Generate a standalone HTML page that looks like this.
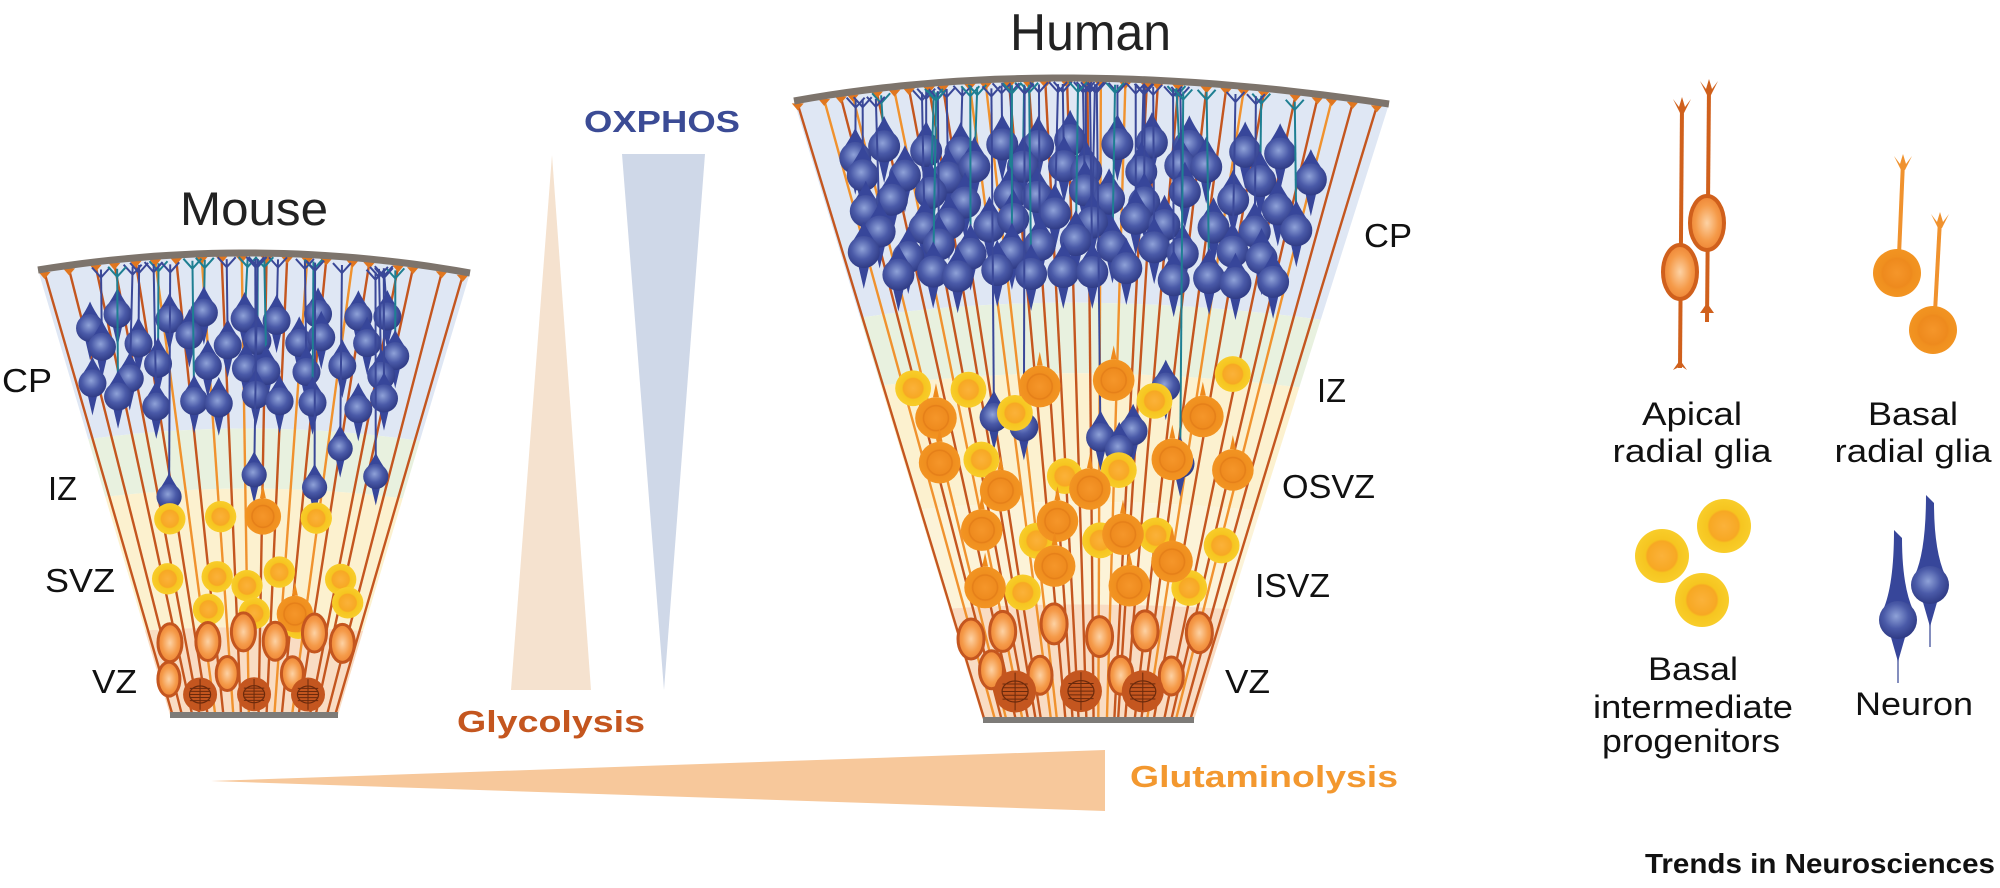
<!DOCTYPE html>
<html><head><meta charset="utf-8">
<style>
html,body{margin:0;padding:0;background:#fff;}
svg{display:block;}
text{font-family:"Liberation Sans",Arial,sans-serif;}
</style></head>
<body>
<svg id="s" width="2000" height="888" viewBox="0 0 2000 888" xmlns="http://www.w3.org/2000/svg">
<defs>
<radialGradient id="nb" cx="0.45" cy="0.4" r="0.6"><stop offset="0" stop-color="#8fa2d8"/><stop offset="0.55" stop-color="#4a5aa8"/><stop offset="1" stop-color="#2f3b85"/></radialGradient>
<radialGradient id="yb" cx="0.5" cy="0.5" r="0.5"><stop offset="0" stop-color="#fbb23a"/><stop offset="0.55" stop-color="#f7a823"/><stop offset="0.62" stop-color="#f6c520"/><stop offset="1" stop-color="#f8cd2a"/></radialGradient>
<radialGradient id="ob" cx="0.5" cy="0.5" r="0.5"><stop offset="0" stop-color="#f5962a"/><stop offset="0.6" stop-color="#ee8a1d"/><stop offset="0.7" stop-color="#f0901f"/><stop offset="1" stop-color="#f29422"/></radialGradient>
<radialGradient id="ab" cx="0.5" cy="0.5" r="0.55"><stop offset="0" stop-color="#fdd2a4"/><stop offset="0.6" stop-color="#f59b4a"/><stop offset="1" stop-color="#ec8030"/></radialGradient>
</defs>
<g id="bg"></g>
<g id="fib"></g>
<g id="cells"></g>

<polygon points="552,155 511,690 591,690" fill="#f5e2cf"/>
<polygon points="622,154 705,154 664,690" fill="#cfd8e8"/>
<polygon points="211,781 1105,750 1105,811" fill="#f7c89b"/>

<text x="180" y="225" font-size="47" fill="#222" textLength="148" lengthAdjust="spacingAndGlyphs">Mouse</text>
<text x="1010" y="50" font-size="52" fill="#222" textLength="161" lengthAdjust="spacingAndGlyphs">Human</text>
<text x="584" y="132" font-size="31" font-weight="bold" fill="#3b4b95" textLength="156" lengthAdjust="spacingAndGlyphs">OXPHOS</text>
<text x="457" y="732" font-size="31" font-weight="bold" fill="#c4561f" textLength="188" lengthAdjust="spacingAndGlyphs">Glycolysis</text>
<text x="1130" y="787" font-size="31" font-weight="bold" fill="#f3982f" textLength="268" lengthAdjust="spacingAndGlyphs">Glutaminolysis</text>

<g font-size="33" fill="#111">
<text x="2" y="392" textLength="50" lengthAdjust="spacingAndGlyphs">CP</text>
<text x="48" y="500" textLength="29" lengthAdjust="spacingAndGlyphs">IZ</text>
<text x="45" y="592" textLength="70" lengthAdjust="spacingAndGlyphs">SVZ</text>
<text x="92" y="693" textLength="45" lengthAdjust="spacingAndGlyphs">VZ</text>
<text x="1364" y="247" textLength="48" lengthAdjust="spacingAndGlyphs">CP</text>
<text x="1317" y="402" textLength="29" lengthAdjust="spacingAndGlyphs">IZ</text>
<text x="1282" y="498" textLength="93" lengthAdjust="spacingAndGlyphs">OSVZ</text>
<text x="1255" y="597" textLength="75" lengthAdjust="spacingAndGlyphs">ISVZ</text>
<text x="1225" y="693" textLength="45" lengthAdjust="spacingAndGlyphs">VZ</text>
</g>

<g id="legend"></g>
<g font-size="32" fill="#111" text-anchor="middle">
<text x="1692" y="425" textLength="100" lengthAdjust="spacingAndGlyphs">Apical</text>
<text x="1692" y="462" textLength="159" lengthAdjust="spacingAndGlyphs">radial glia</text>
<text x="1913" y="425" textLength="90" lengthAdjust="spacingAndGlyphs">Basal</text>
<text x="1913" y="462" textLength="157" lengthAdjust="spacingAndGlyphs">radial glia</text>
<text x="1693" y="680" textLength="90" lengthAdjust="spacingAndGlyphs">Basal</text>
<text x="1693" y="718" textLength="200" lengthAdjust="spacingAndGlyphs">intermediate</text>
<text x="1691" y="752" textLength="178" lengthAdjust="spacingAndGlyphs">progenitors</text>
<text x="1914" y="715" textLength="118" lengthAdjust="spacingAndGlyphs">Neuron</text>
</g>
<text x="1645" y="873" font-size="28" font-weight="bold" fill="#111" textLength="350" lengthAdjust="spacingAndGlyphs">Trends in Neurosciences</text>
</svg>
<script>
(function(){
var NS="http://www.w3.org/2000/svg";
function el(parent,tag,attrs){var e=document.createElementNS(NS,tag);for(var k in attrs)e.setAttribute(k,attrs[k]);parent.appendChild(e);return e;}
var seed=11;function rnd(){seed=(seed*16807)%2147483647;return (seed-1)/2147483646;}
var bg=document.getElementById('bg'),fib=document.getElementById('fib'),cells=document.getElementById('cells'),leg=document.getElementById('legend');
function mkFan(tl,pk,tr,bl,br){
  var C=[2*pk[0]-(tl[0]+tr[0])/2,2*pk[1]-(tl[1]+tr[1])/2];
  return function(u,v){
    var a=(1-u)*(1-u),b=2*u*(1-u),c=u*u;
    var tx=a*tl[0]+b*C[0]+c*tr[0],ty=a*tl[1]+b*C[1]+c*tr[1];
    var bx=bl[0]+(br[0]-bl[0])*u,by=bl[1]+(br[1]-bl[1])*u;
    return [tx+(bx-tx)*v,ty+(by-ty)*v];
  };
}
function zone(F,v1,v2,col){
  var pts=[],i;
  for(i=0;i<=30;i++){var p=F(i/30,v1);pts.push(p[0].toFixed(1)+','+p[1].toFixed(1));}
  for(i=30;i>=0;i--){var p=F(i/30,v2);pts.push(p[0].toFixed(1)+','+p[1].toFixed(1));}
  el(bg,'polygon',{points:pts.join(' '),fill:col});
}
function arcLine(F,v,col,w){
  var pts=[];for(var i=0;i<=30;i++){var p=F(i/30,v);pts.push(p[0].toFixed(1)+','+p[1].toFixed(1));}
  el(cells,'polyline',{points:pts.join(' '),fill:'none',stroke:col,'stroke-width':w});
}
function neuron(x,y,r,topY){
  var g=el(cells,'g',{});
  if(rnd()<0.6){
    var tx=x+(rnd()-0.5)*8;var col=rnd()<0.35?'#1e7f92':'#3a4898';
    el(g,'line',{x1:x,y1:y,x2:tx,y2:topY+6,stroke:col,'stroke-width':2});
    el(g,'path',{d:'M'+(tx-9)+','+(topY+4)+' L'+tx+','+(topY+14)+' L'+(tx+9)+','+(topY+4),fill:'none',stroke:col,'stroke-width':2});
  }
  el(g,'path',{d:'M'+(x-r*0.85)+','+(y-r*0.45)+' Q'+(x-r*0.25)+','+(y-r*1.3)+' '+x+','+(y-r*1.9)+' Q'+(x+r*0.25)+','+(y-r*1.3)+' '+(x+r*0.85)+','+(y-r*0.45)+' Z',fill:'#37469a'});
  el(g,'path',{d:'M'+(x-r*0.35)+','+(y+r*0.8)+' L'+x+','+(y+r*2.3)+' L'+(x+r*0.35)+','+(y+r*0.8)+' Z',fill:'#37469a'});
  el(g,'circle',{cx:x,cy:y,r:r,fill:'url(#nb)'});
}
function yellow(x,y,r){el(cells,'circle',{cx:x,cy:y,r:r,fill:'url(#yb)'});}
function orange(x,y,r){
  el(cells,'path',{d:'M'+(x-3)+','+(y-r)+' L'+x+','+(y-r-14)+' L'+(x+3)+','+(y-r)+'Z',fill:'#ee8a1d'});
  el(cells,'circle',{cx:x,cy:y,r:r,fill:'url(#ob)'});
  el(cells,'circle',{cx:x,cy:y,r:r*0.6,fill:'none',stroke:'#e07a18','stroke-width':1.5,opacity:0.6});
}
function apical(x,y,rx,ry){el(cells,'ellipse',{cx:x,cy:y,rx:rx,ry:ry,fill:'url(#ab)',stroke:'#c4561f','stroke-width':3});}
function mitotic(x,y,r){
  el(cells,'circle',{cx:x,cy:y,r:r,fill:'#c4561f'});
  el(cells,'ellipse',{cx:x,cy:y,rx:r*0.62,ry:r*0.5,fill:'none',stroke:'#6b2a0c','stroke-width':1.2});
  for(var k=-2;k<=2;k++){el(cells,'line',{x1:x-r*0.6,y1:y+k*r*0.18,x2:x+r*0.6,y2:y+k*r*0.18,stroke:'#6b2a0c','stroke-width':1});}
  el(cells,'line',{x1:x,y1:y-r*0.9,x2:x,y2:y+r*0.9,stroke:'#6b2a0c','stroke-width':1});
}
function build(F,zones,nF,rows,cols,vmin,vmax,nNlow,nY,nO,vz,mit,r,low){
  zones.forEach(function(z){zone(F,z[0],z[1],z[2]);});
  for(var i=0;i<nF;i++){
    var u=(i+0.5)/nF+(rnd()-0.5)*0.02;var a=F(u,0),b=F(u,1);
    el(fib,'line',{x1:a[0],y1:a[1]+4,x2:b[0],y2:b[1],stroke:rnd()<0.7?'#c4561f':'#f0922e','stroke-width':2.4});
    el(fib,'path',{d:'M'+(a[0]-6)+','+(a[1]+3)+' L'+a[0]+','+(a[1]+10)+' L'+(a[0]+6)+','+(a[1]+3)+'Z',fill:'#e0761f'});
  }
  for(var ri=0;ri<rows;ri++){
    for(var ci=0;ci<cols;ci++){
      var u=0.05+0.9*(ci+0.5*(ri%2)+0.25+(rnd()-0.5)*0.5)/(cols+0.5);
      var v=vmin+(vmax-vmin)*(ri+0.5+(rnd()-0.5)*0.6)/rows;
      var p=F(u,v),t=F(u,0);
      neuron(p[0],p[1],r,t[1]);
    }
  }
  for(var i=0;i<nNlow;i++){
    var u=0.1+0.8*rnd(),v=low[0]+(low[1]-low[0])*rnd();var p=F(u,v);var t=F(u,0);
    neuron(p[0],p[1],r*0.9,t[1]);
  }
  nY.forEach(function(c){var p=F(c[0],c[1]);yellow(p[0],p[1],r*1.12);});
  nO.forEach(function(c){var p=F(c[0],c[1]);orange(p[0],p[1],r*1.3);});
  vz.forEach(function(c){var p=F(c[0],c[1]);apical(p[0],p[1],c[2],c[3]);});
  mit.forEach(function(c){var p=F(c[0],c[1]);mitotic(p[0],p[1],c[2]);});
  arcLine(F,0,'#7d746c',7);
  arcLine(F,1,'#7d7b78',6);
}
var FM=mkFan([38,270],[255,253],[470,273],[170,715],[338,715]);
build(FM,[[0,0.38,'#dfe7f4'],[0.38,0.51,'#e8f1df'],[0.51,0.81,'#fcf1cf'],[0.81,1,'#f9dcc3']],
 20,4,9,0.1,0.34,5,
 [[0.2,0.57],[0.38,0.57],[0.72,0.57],[0.15,0.7],[0.35,0.7],[0.47,0.72],[0.6,0.69],[0.85,0.7],[0.3,0.77],[0.5,0.78],[0.7,0.8],[0.9,0.75]],
 [[0.53,0.57],[0.68,0.78]],
 [[0.1,0.84,12,19],[0.28,0.84,12,19],[0.45,0.82,12,19],[0.6,0.84,12,19],[0.78,0.82,12,19],[0.92,0.84,12,19],[0.05,0.92,11,17],[0.36,0.91,11,17],[0.7,0.91,11,17]],
 [[0.2,0.955,17],[0.5,0.955,17],[0.8,0.955,17]],14,[0.4,0.62]);
var FH=mkFan([794,101],[1073,78],[1389,104],[983,720],[1194,720]);
build(FH,[[0,0.35,'#dfe7f4'],[0.35,0.46,'#e8f1df'],[0.46,0.66,'#fcf1cf'],[0.66,0.82,'#fcf3d8'],[0.82,1,'#f9dcc3']],
 30,6,12,0.08,0.32,7,
 [[0.08,0.47],[0.22,0.48],[0.85,0.45],[0.33,0.52],[0.68,0.5],[0.22,0.59],[0.6,0.61],[0.45,0.62],[0.35,0.72],[0.55,0.72],[0.72,0.71],[0.92,0.72],[0.28,0.8],[0.85,0.79]],
 [[0.12,0.52],[0.4,0.48],[0.58,0.47],[0.8,0.52],[0.1,0.59],[0.26,0.64],[0.52,0.64],[0.74,0.59],[0.9,0.6],[0.18,0.7],[0.42,0.69],[0.62,0.71],[0.78,0.75],[0.15,0.79],[0.65,0.79],[0.4,0.76]],
 [[0.05,0.87,13,20],[0.18,0.86,13,20],[0.38,0.85,13,20],[0.55,0.87,13,20],[0.72,0.86,13,20],[0.92,0.86,13,20],[0.1,0.92,12,19],[0.3,0.93,12,19],[0.64,0.93,12,19],[0.85,0.93,12,19]],
 [[0.18,0.955,21],[0.47,0.955,21],[0.74,0.955,21]],16,[0.38,0.62]);

function endfoot(x,y,c){el(leg,'path',{d:'M'+(x-9)+','+(y-4)+' L'+(x-3)+','+(y+4)+' L'+x+','+(y-6)+' L'+(x+3)+','+(y+4)+' L'+(x+9)+','+(y-4)+' L'+(x+2)+','+(y+10)+' L'+(x-2)+','+(y+10)+'Z',fill:c});}
el(leg,'line',{x1:1682,y1:105,x2:1680,y2:368,stroke:'#d0601c','stroke-width':4});
endfoot(1682,103,'#d0601c');
el(leg,'path',{d:'M1673,370 L1680,360 L1687,370 L1681,366Z',fill:'#d0601c'});
el(leg,'line',{x1:1709,y1:87,x2:1707,y2:322,stroke:'#d0601c','stroke-width':4});
endfoot(1709,85,'#d0601c');
el(leg,'path',{d:'M1700,313 L1707,303 L1714,313Z',fill:'#d0601c'});
el(leg,'ellipse',{cx:1680,cy:272,rx:17,ry:27,fill:'url(#ab)',stroke:'#d0601c','stroke-width':4});
el(leg,'ellipse',{cx:1707,cy:223,rx:17,ry:27,fill:'url(#ab)',stroke:'#d0601c','stroke-width':4});
el(leg,'line',{x1:1903,y1:162,x2:1899,y2:255,stroke:'#f0922e','stroke-width':4});
endfoot(1903,160,'#f0922e');
el(leg,'line',{x1:1940,y1:220,x2:1935,y2:312,stroke:'#f0922e','stroke-width':4});
endfoot(1940,218,'#f0922e');
el(leg,'circle',{cx:1897,cy:273,r:24,fill:'url(#ob)'});
el(leg,'circle',{cx:1933,cy:330,r:24,fill:'url(#ob)'});
[[1662,556],[1724,526],[1702,600]].forEach(function(c){el(leg,'circle',{cx:c[0],cy:c[1],r:27,fill:'url(#yb)'});});
function lneuron(x,y,r,top,bot){
  el(leg,'line',{x1:x,y1:y,x2:x,y2:bot,stroke:'#5a68a8','stroke-width':1.5});
  el(leg,'path',{d:'M'+(x-r*0.8)+','+(y-r*0.5)+' Q'+(x-4)+','+(y-r*1.8)+' '+(x-4)+','+top+' L'+(x+4)+','+(top+8)+' Q'+(x+4)+','+(y-r*1.8)+' '+(x+r*0.8)+','+(y-r*0.5)+'Z',fill:'#37469a'});
  el(leg,'path',{d:'M'+(x-r*0.4)+','+(y+r*0.8)+' L'+x+','+(y+r*2.2)+' L'+(x+r*0.4)+','+(y+r*0.8)+'Z',fill:'#37469a'});
  el(leg,'circle',{cx:x,cy:y,r:r,fill:'url(#nb)'});
}
lneuron(1898,620,19,530,683);
lneuron(1930,585,19,495,647);
})();
</script>
</body></html>
